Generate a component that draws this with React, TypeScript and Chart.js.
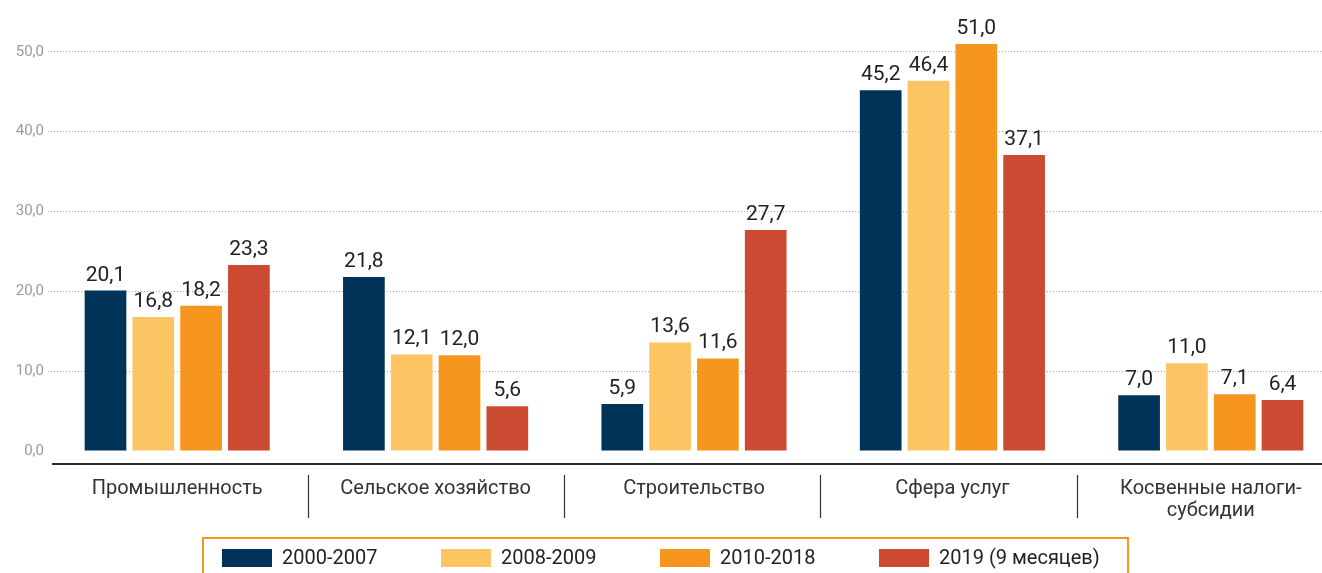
import React, { useEffect, useRef } from "react";
import { Chart, registerables } from "chart.js";

Chart.register(...registerables);

const categories = [
  "Промышленность",
  "Сельское хозяйство",
  "Строительство",
  "Сфера услуг",
  "Косвенные налоги-\nсубсидии",
];
const seriesLabels = ["2000-2007", "2008-2009", "2010-2018", "2019 (9 месяцев)"];
const series2000_2007 = [20.1, 21.8, 5.9, 45.2, 7.0];
const series2008_2009 = [16.8, 12.1, 13.6, 46.4, 11.0];
const series2010_2018 = [18.2, 12.0, 11.6, 51.0, 7.1];
const series2019 = [23.3, 5.6, 27.7, 37.1, 6.4];
const seriesColors = ["#003358", "#FCC462", "#F7961F", "#CD4A32"];
const yTicks = [0, 10, 20, 30, 40, 50];

const FONT = "Roboto, 'Noto Sans', sans-serif";
const fmt = (v: number) => v.toFixed(1).replace(".", ",");

const decorPlugin = {
  id: "decor",
  afterDatasetsDraw(chart: any) {
    const ctx = chart.ctx;
    ctx.save();
    ctx.font = `21px ${FONT}`;
    ctx.fillStyle = "#222";
    ctx.textAlign = "center";
    ctx.textBaseline = "alphabetic";
    chart.data.datasets.forEach((ds: any, di: number) => {
      const meta = chart.getDatasetMeta(di);
      meta.data.forEach((bar: any, i: number) => {
        ctx.fillText(fmt(ds.data[i]), bar.x, bar.y - 10);
      });
    });
    ctx.restore();
  },
  afterDraw(chart: any) {
    const ctx = chart.ctx;
    const xs = chart.scales.x;
    const W = chart.width;
    ctx.save();
    ctx.strokeStyle = "#2a2a2a";
    ctx.lineWidth = 2;
    ctx.beginPath();
    ctx.moveTo(52, 464);
    ctx.lineTo(W, 464);
    ctx.stroke();
    ctx.lineWidth = 1.2;
    ctx.strokeStyle = "#333";
    const step = xs.getPixelForValue(1) - xs.getPixelForValue(0);
    const first = (xs.getPixelForValue(0) + xs.getPixelForValue(1)) / 2 + 1.5;
    for (let i = 0; i < categories.length - 1; i++) {
      const x = Math.round(first + i * step * 0.9915) + 0.5;
      ctx.beginPath();
      ctx.moveTo(x, 475);
      ctx.lineTo(x, 518);
      ctx.stroke();
    }
    ctx.font = `20px ${FONT}`;
    ctx.fillStyle = "#333";
    ctx.textAlign = "center";
    ctx.textBaseline = "middle";
    categories.forEach((c, i) => {
      const x = xs.getPixelForValue(i);
      c.split("\n").forEach((line, li) => {
        ctx.fillText(line, x, 489 + li * 22);
      });
    });
    ctx.strokeStyle = "#F7961F";
    ctx.lineWidth = 2;
    ctx.strokeRect(203, 538, 925, 60);
    ctx.font = `20px ${FONT}`;
    ctx.textAlign = "left";
    chart.data.datasets.forEach((ds: any, i: number) => {
      const x = 222 + i * 219;
      ctx.fillStyle = ds.backgroundColor;
      ctx.fillRect(x, 549, 50, 18);
      ctx.fillStyle = "#222";
      ctx.fillText(ds.label, x + 60, 559);
    });
    ctx.restore();
  },
};

export default function App() {
  const ref = useRef<HTMLCanvasElement>(null);
  useEffect(() => {
    if (!ref.current) return;
    const data = [series2000_2007, series2008_2009, series2010_2018, series2019];
    const chart = new Chart(ref.current, {
      type: "bar",
      data: {
        labels: categories,
        datasets: data.map((d, i) => ({
          label: seriesLabels[i],
          data: d,
          backgroundColor: seriesColors[i],
          borderWidth: 0,
          categoryPercentage: 0.74,
          barPercentage: 0.872,
        })),
      },
      options: {
        responsive: false,
        animation: false,
        devicePixelRatio: 1,
        layout: { padding: { top: 3, bottom: 122, right: 2, left: 0 } },
        plugins: { legend: { display: false }, tooltip: { enabled: false } },
        scales: {
          x: { display: false },
          y: {
            min: 0,
            max: 54.875,
            afterBuildTicks: (axis: any) => {
              axis.ticks = yTicks.map((v) => ({ value: v }));
            },
            afterFit: (axis: any) => {
              axis.width = 48;
            },
            ticks: {
              padding: 4,
              color: "#9a9a9a",
              font: { size: 15, family: FONT },
              callback: (v: any) => fmt(Number(v)),
            },
            grid: {
              drawTicks: false,
              color: (c: any) => (c.tick && c.tick.value === 0 ? "rgba(0,0,0,0)" : "#a6a6a6"),
              lineWidth: 1,
            },
            border: { display: false, dash: [1, 2] },
          },
        },
      },
      plugins: [decorPlugin],
    });
    return () => chart.destroy();
  }, []);
  return (
    <div
      style={{
        position: "fixed",
        left: 0,
        top: 0,
        width: 1322,
        height: 573,
        overflow: "hidden",
        background: "#fff",
      }}
    >
      <canvas ref={ref} width={1342} height={573} style={{ display: "block" }} />
    </div>
  );
}
